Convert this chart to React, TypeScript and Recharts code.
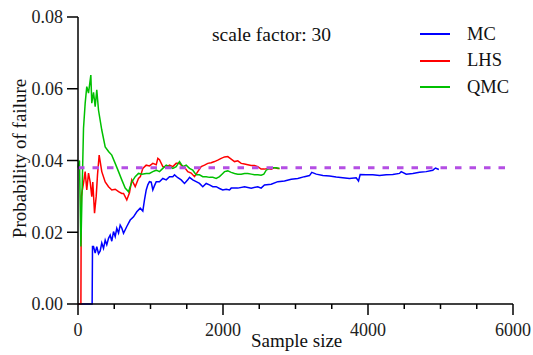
import { LineChart, Line, XAxis, YAxis, ReferenceLine } from 'recharts';

// [sample size, probability of failure]
const mc: [number, number][] = [
  [0, 0], [195, 0], [200, 0.016], [214, 0.016], [237, 0.0142], [259, 0.016], [283, 0.014],
  [306, 0.0148], [328, 0.017], [352, 0.0155], [375, 0.0178], [397, 0.0165], [421, 0.0183],
  [444, 0.0192], [466, 0.0175], [490, 0.0202], [513, 0.0188], [535, 0.0211], [559, 0.0198],
  [582, 0.022], [604, 0.0212], [628, 0.0197], [673, 0.0216], [720, 0.0234], [766, 0.0243],
  [811, 0.0257], [858, 0.0267], [894, 0.0259], [917, 0.029], [941, 0.0318], [963, 0.0332],
  [986, 0.0341], [1010, 0.034], [1032, 0.0318], [1055, 0.033], [1079, 0.0341], [1124, 0.0341],
  [1170, 0.035], [1217, 0.0346], [1262, 0.0355], [1308, 0.0355], [1331, 0.036], [1377, 0.0352],
  [1423, 0.0346], [1469, 0.0336], [1514, 0.0346], [1538, 0.0353], [1583, 0.0346], [1630, 0.0341],
  [1676, 0.0336], [1721, 0.0327], [1768, 0.0336], [1814, 0.0332], [1859, 0.0327], [1906, 0.0327],
  [1952, 0.0322], [1997, 0.0318], [2044, 0.032], [2090, 0.0318], [2113, 0.0323], [2204, 0.0323],
  [2297, 0.0327], [2389, 0.0323], [2480, 0.0327], [2526, 0.0323], [2572, 0.0332], [2665, 0.0334],
  [2756, 0.0341], [2848, 0.0343], [2941, 0.0348], [3032, 0.035], [3124, 0.0355], [3193, 0.0358],
  [3225, 0.0367], [3286, 0.0362], [3377, 0.0358], [3469, 0.0357], [3561, 0.0354], [3652, 0.0352],
  [3745, 0.035], [3837, 0.0352], [3869, 0.0343], [3892, 0.0361], [3975, 0.036], [4066, 0.036],
  [4159, 0.0358], [4251, 0.036], [4342, 0.0361], [4434, 0.0364], [4458, 0.0369], [4527, 0.0362],
  [4618, 0.0364], [4710, 0.0367], [4803, 0.0369], [4894, 0.0373], [4931, 0.0379], [4977, 0.0375],
];

const lhs: [number, number][] = [
  [0, 0], [40, 0], [45, 0.03], [76, 0.0337], [99, 0.0369], [121, 0.0318], [145, 0.0365],
  [168, 0.034], [190, 0.0299], [204, 0.034], [228, 0.0253], [251, 0.03], [269, 0.036],
  [292, 0.0415], [328, 0.0369], [375, 0.034], [421, 0.0327], [466, 0.0318], [513, 0.032],
  [559, 0.0313], [604, 0.0308], [628, 0.0308], [673, 0.029], [710, 0.031], [742, 0.0346],
  [789, 0.0327], [834, 0.035], [860, 0.0355], [894, 0.0378], [941, 0.0387], [986, 0.0385],
  [1032, 0.0392], [1079, 0.0388], [1101, 0.0406], [1124, 0.0402], [1170, 0.0383], [1217, 0.0381],
  [1262, 0.0387], [1308, 0.0383], [1354, 0.0392], [1400, 0.0392], [1423, 0.0387], [1469, 0.0381],
  [1514, 0.0369], [1561, 0.0365], [1607, 0.0355], [1652, 0.0369], [1699, 0.0383], [1745, 0.0387],
  [1790, 0.0392], [1837, 0.0394], [1883, 0.0397], [1928, 0.0401], [1975, 0.0406], [2021, 0.041],
  [2066, 0.0411], [2113, 0.0404], [2159, 0.0397], [2204, 0.0399], [2251, 0.0392], [2297, 0.039],
  [2342, 0.0388], [2389, 0.0386], [2434, 0.0386], [2480, 0.0383], [2526, 0.0376], [2572, 0.0376],
  [2618, 0.0378], [2665, 0.0376], [2710, 0.038], [2756, 0.0378], [2779, 0.0378],
];

const qmc: [number, number][] = [
  [0, 0.038], [20, 0.04], [40, 0.016], [55, 0.03], [76, 0.049], [99, 0.056], [121, 0.0606],
  [145, 0.0588], [177, 0.0638], [190, 0.056], [214, 0.059], [237, 0.055], [259, 0.0597],
  [283, 0.054], [328, 0.0485], [375, 0.0438], [421, 0.0425], [466, 0.0415], [513, 0.0392],
  [559, 0.0369], [604, 0.0346], [651, 0.0323], [697, 0.0313], [742, 0.034], [789, 0.0355],
  [834, 0.0364], [880, 0.0362], [941, 0.0364], [986, 0.0364], [1032, 0.0369], [1079, 0.0373],
  [1124, 0.0369], [1170, 0.0378], [1217, 0.0387], [1262, 0.0383], [1308, 0.0378], [1354, 0.0383],
  [1400, 0.0397], [1446, 0.0383], [1492, 0.0387], [1538, 0.0378], [1583, 0.0373], [1630, 0.036],
  [1676, 0.036], [1721, 0.0355], [1768, 0.0355], [1814, 0.0353], [1859, 0.0353], [1906, 0.035],
  [1952, 0.0355], [1997, 0.0364], [2021, 0.0369], [2066, 0.0371], [2113, 0.0367], [2159, 0.0364],
  [2204, 0.0362], [2251, 0.0362], [2297, 0.0364], [2342, 0.0364], [2389, 0.0362], [2434, 0.036],
  [2480, 0.036], [2526, 0.0359], [2563, 0.0362], [2596, 0.0373], [2641, 0.0378], [2686, 0.038],
  [2734, 0.038], [2779, 0.0378],
];

const exactPf = 0.038;
const xTicks = [0, 500, 1000, 1500, 2000, 2500, 3000, 3500, 4000, 4500, 5000, 5500, 6000];
const yTicks = [0, 0.02, 0.04, 0.06, 0.08];

const series = [
  { name: 'MC', color: '#0000ff', points: mc },
  { name: 'LHS', color: '#ff0000', points: lhs },
  { name: 'QMC', color: '#00c000', points: qmc },
];

const FONT = '"Liberation Serif", "Times New Roman", serif';
const textStyle = { fontFamily: FONT };

function XTick({ x, y, payload }: any) {
  const major = payload.value % 2000 === 0;
  return (
    <g>
      <line x1={x} x2={x} y1={y} y2={y + (major ? 11 : 5)} stroke="#000" strokeWidth={1.5} />
      {major && (
        <text x={x} y={y + 32} textAnchor="middle" fontSize={18} style={textStyle} fill="#222">
          {payload.value}
        </text>
      )}
    </g>
  );
}

function YTick({ x, y, payload }: any) {
  // x, y come in at the axis line because tickSize and tickMargin are 0
  return (
    <g>
      <line x1={x - 11} x2={x} y1={y} y2={y} stroke="#000" strokeWidth={1.5} />
      <text x={x - 15} y={y + 6.3} textAnchor="end" fontSize={18} style={textStyle} fill="#222">
        {payload.value.toFixed(2)}
      </text>
    </g>
  );
}

export default function App() {
  return (
    <div style={{ position: 'absolute', left: 0, top: 0, width: 533, height: 355, fontFamily: FONT }}>
      <LineChart
        width={533}
        height={355}
        margin={{ top: 17, right: 20, bottom: 0, left: 0 }}
        style={textStyle}
      >
        <XAxis
          type="number"
          dataKey="x"
          domain={[0, 6000]}
          ticks={xTicks}
          interval={0}
          height={51}
          tickSize={0}
          tickMargin={0}
          tickLine={false}
          tick={<XTick />}
          stroke="#000"
          strokeWidth={1.5}
        />
        <YAxis
          type="number"
          domain={[0, 0.08]}
          ticks={yTicks}
          interval={0}
          width={78}
          tickSize={0}
          tickMargin={0}
          tickLine={false}
          tick={<YTick />}
          stroke="#000"
          strokeWidth={1.5}
        />
        {series.map((s) => (
          <Line
            key={s.name}
            data={s.points.map(([x, y]) => ({ x, y }))}
            dataKey="y"
            type="linear"
            stroke={s.color}
            strokeWidth={1.5}
            dot={false}
            isAnimationActive={false}
          />
        ))}
        <ReferenceLine y={exactPf} stroke="#b44ee4" strokeWidth={3} strokeDasharray="6.5 8" />
      </LineChart>
      <div style={{ position: 'absolute', left: 212, top: 24, fontSize: 19.5, color: '#111', whiteSpace: 'nowrap' }}>
        scale factor: 30
      </div>
      <svg width={40} height={355} style={{ position: 'absolute', left: 0, top: 0 }}>
        <text
          x={26}
          y={158.5}
          transform="rotate(-90, 26, 158.5)"
          textAnchor="middle"
          fontSize={19}
          style={textStyle}
          fill="#111"
        >
          Probability of failure
        </text>
      </svg>
      <div style={{ position: 'absolute', left: 251, top: 330, fontSize: 19, color: '#111', whiteSpace: 'nowrap' }}>
        Sample size
      </div>
      {series.map((s, i) => (
        <div
          key={s.name}
          style={{ position: 'absolute', left: 420, top: 23 + i * 26.5, height: 22, display: 'flex', alignItems: 'center' }}
        >
          <span style={{ display: 'inline-block', width: 30, height: 2, background: s.color }} />
          <span style={{ marginLeft: 17, fontSize: 18.5, color: '#111' }}>{s.name}</span>
        </div>
      ))}
    </div>
  );
}
